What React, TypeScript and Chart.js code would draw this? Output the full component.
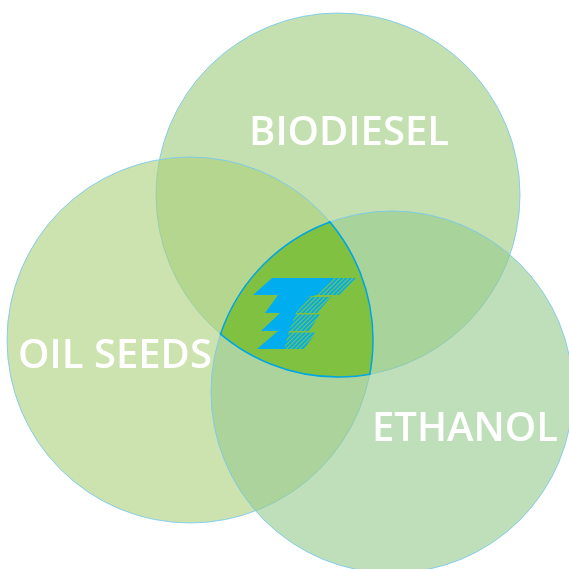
import React, { useEffect, useRef } from "react";
import { Chart, registerables } from "chart.js";

Chart.register(...registerables);

// ---- Data ----
const categories = ["BIODIESEL", "OIL SEEDS", "ETHANOL"];
const centerX = [338, 190, 392];
const centerY = [195, 340, 392];
const radius = [182, 183, 181];

// ---- Styles / layout (not data) ----
const FILLS = ["rgba(158,203,123,0.6)", "rgba(170,207,122,0.6)", "rgba(148,202,142,0.6)"];
const BORDER = "rgba(120,200,240,0.85)";
const CENTER_FILL = "rgb(128,193,65)";
const CENTER_BORDER = "rgb(0,166,228)";
const LOGO_BLUE = "rgb(0,174,239)";
const LABEL_POS = [
  { x: 349, y: 145 },
  { x: 115, y: 368 },
  { x: 465, y: 441 },
];
const SIZE = 569;

// logo geometry (decoration, in canvas coordinate units)
const LOGO_SOLID = [
  [272, 278], [333, 278], [317, 295], [308, 297], [296, 313], [289, 331],
  [284, 349], [257, 349], [278, 331], [261, 331], [280, 313], [265, 313],
  [278, 295], [253, 295],
];
const STRIPE_GROUPS = [
  [[332, 278], [356, 278], [339, 295], [316, 295]],
  [[307, 297], [331, 297], [317, 313], [295, 313]],
  [[295, 314.5], [320, 314.5], [309, 331], [288, 331]],
  [[288, 332.5], [316, 332.5], [304, 349], [283, 349]],
];

const vennPlugin = {
  id: "vennExtras",
  afterDatasetsDraw(chart: any) {
    const ctx: CanvasRenderingContext2D = chart.ctx;
    const xs = chart.scales.x;
    const ys = chart.scales.y;
    const px = (v: number) => xs.getPixelForValue(v);
    const py = (v: number) => ys.getPixelForValue(v);
    const meta = chart.getDatasetMeta(0);
    const circles = meta.data.map((el: any, i: number) => ({ x: el.x, y: el.y, r: radius[i] }));

    // triple intersection fill
    ctx.save();
    for (let i = 0; i < 2; i++) {
      ctx.beginPath();
      ctx.arc(circles[i].x, circles[i].y, circles[i].r, 0, Math.PI * 2);
      ctx.clip();
    }
    ctx.beginPath();
    ctx.arc(circles[2].x, circles[2].y, circles[2].r, 0, Math.PI * 2);
    ctx.fillStyle = CENTER_FILL;
    ctx.fill();
    ctx.restore();

    // triple intersection outline
    for (let i = 0; i < 3; i++) {
      ctx.save();
      for (let j = 0; j < 3; j++) {
        if (j === i) continue;
        ctx.beginPath();
        ctx.arc(circles[j].x, circles[j].y, circles[j].r + 1, 0, Math.PI * 2);
        ctx.clip();
      }
      ctx.beginPath();
      ctx.arc(circles[i].x, circles[i].y, circles[i].r, 0, Math.PI * 2);
      ctx.strokeStyle = CENTER_BORDER;
      ctx.lineWidth = 1.5;
      ctx.stroke();
      ctx.restore();
    }

    // logo: solid part
    ctx.save();
    ctx.beginPath();
    LOGO_SOLID.forEach(([x, y], k) => {
      if (k === 0) ctx.moveTo(px(x), py(y));
      else ctx.lineTo(px(x), py(y));
    });
    ctx.closePath();
    ctx.fillStyle = LOGO_BLUE;
    ctx.fill();
    ctx.restore();

    // logo: striped groups
    ctx.save();
    ctx.beginPath();
    STRIPE_GROUPS.forEach((quad) => {
      quad.forEach(([x, y], k) => {
        if (k === 0) ctx.moveTo(px(x), py(y));
        else ctx.lineTo(px(x), py(y));
      });
      ctx.closePath();
    });
    ctx.clip();
    ctx.strokeStyle = LOGO_BLUE;
    ctx.lineWidth = 2;
    for (let s = 250; s < 500; s += 4.4) {
      ctx.beginPath();
      ctx.moveTo(px(s), py(260));
      ctx.lineTo(px(s - 100), py(360));
      ctx.stroke();
    }
    ctx.restore();

    // labels
    ctx.save();
    ctx.font = "600 40px 'Open Sans', 'DejaVu Sans', sans-serif";
    ctx.textAlign = "center";
    ctx.textBaseline = "alphabetic";
    ctx.fillStyle = "#ffffff";
    categories.forEach((name, i) => {
      ctx.fillText(name, px(LABEL_POS[i].x), py(LABEL_POS[i].y));
    });
    ctx.restore();
  },
};

export default function App() {
  const canvasRef = useRef<HTMLCanvasElement | null>(null);

  useEffect(() => {
    if (!canvasRef.current) return;
    const chart = new Chart(canvasRef.current, {
      type: "bubble",
      data: {
        labels: categories,
        datasets: [
          {
            label: "Venn",
            data: categories.map((_, i) => ({ x: centerX[i], y: centerY[i], r: radius[i] })),
            backgroundColor: FILLS,
            borderColor: BORDER,
            borderWidth: 1,
            hoverRadius: 0,
            clip: false as any,
          },
        ],
      },
      options: {
        animation: false,
        responsive: false,
        devicePixelRatio: 1,
        events: [],
        layout: { padding: 0, autoPadding: false },
        plugins: { legend: { display: false }, tooltip: { enabled: false } },
        scales: {
          x: { type: "linear", min: 0, max: SIZE, display: false },
          y: { type: "linear", min: 0, max: SIZE, reverse: true, display: false },
        },
      },
      plugins: [vennPlugin],
    });
    return () => chart.destroy();
  }, []);

  return (
    <div style={{ position: "absolute", left: 0, top: 0, width: SIZE, height: SIZE, background: "#fff" }}>
      <canvas ref={canvasRef} width={SIZE} height={SIZE} style={{ width: SIZE, height: SIZE }} />
    </div>
  );
}
